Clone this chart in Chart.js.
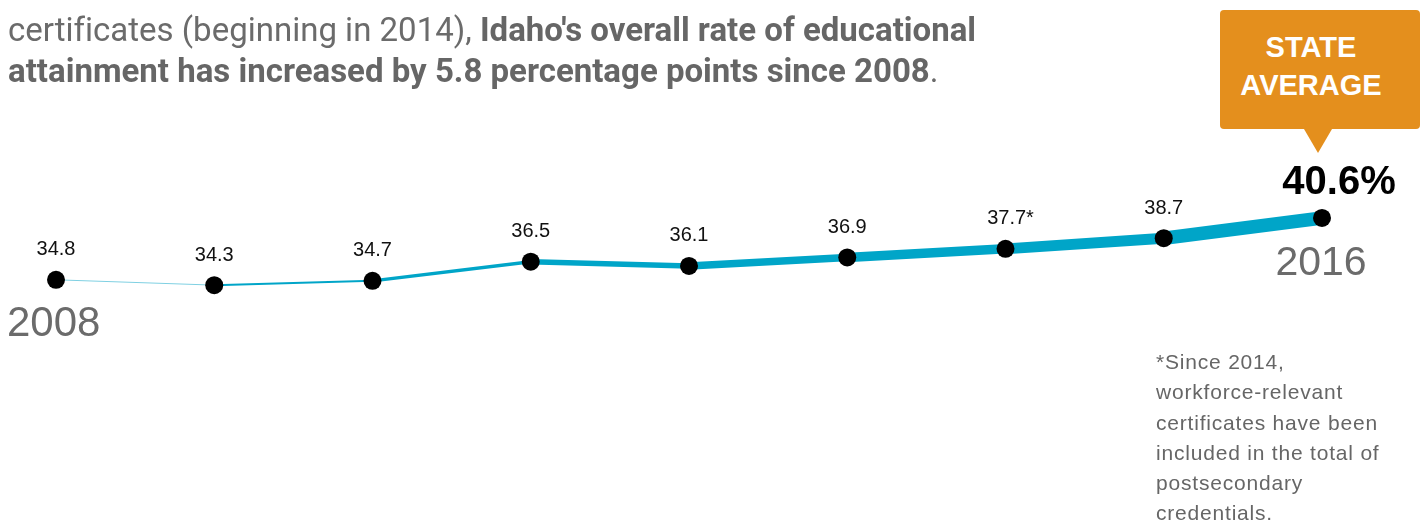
<!DOCTYPE html>
<html>
<head>
    <title>Idaho educational attainment</title>
    <script src="https://cdn.jsdelivr.net/npm/chart.js"></script>
    <style>
        body {
            margin: 0;
            width: 1426px;
            height: 521px;
            overflow: hidden;
            position: relative;
            font-family: "Liberation Sans", Arial, sans-serif;
            background: #fff;
        }

        #chart {
            position: absolute;
            left: 0;
            top: 0;
        }

        .intro {
            position: absolute;
            left: 8px;
            top: 9px;
            width: 1150px;
            font-family: Roboto, "Liberation Sans", sans-serif;
            font-size: 33px;
            line-height: 41px;
            color: #6b6b6b;
            font-variant-ligatures: none;
        }

        .intro b {
            color: #666;
        }

        .badge {
            position: absolute;
            left: 1220px;
            top: 10px;
            width: 200px;
            height: 119px;
            background: #e48f1d;
            border-radius: 4px;
            color: #fff;
            font-weight: bold;
            font-size: 29px;
            line-height: 38px;
            text-align: center;
            padding-top: 18px;
            padding-right: 18px;
            box-sizing: border-box;
        }

        .badge:after {
            content: "";
            position: absolute;
            left: 84px;
            top: 119px;
            border-left: 14px solid transparent;
            border-right: 14px solid transparent;
            border-top: 24px solid #e48f1d;
        }

        .note {
            position: absolute;
            left: 1156px;
            top: 347px;
            width: 270px;
            font-size: 21px;
            letter-spacing: 0.8px;
            line-height: 30.3px;
            color: #666;
        }
    </style>
</head>
<body>
    <canvas id="chart" width="1426" height="521"></canvas>

    <div class="intro">
        certificates (beginning in 2014), <b>Idaho's overall rate of educational<br>
        attainment has increased by 5.8 percentage points since 2008</b>.
    </div>

    <div class="badge">STATE<br>AVERAGE</div>

    <div class="note">
        *Since 2014,<br>workforce-relevant<br>certificates have been<br>included in the total of<br>postsecondary<br>credentials.
    </div>

    <script>
        // data
        var years = ['2008', '2009', '2010', '2011', '2012', '2013', '2014', '2015', '2016'];
        var rates = [34.8, 34.3, 34.7, 36.5, 36.1, 36.9, 37.7, 38.7, 40.6];
        var pointLabels = ['34.8', '34.3', '34.7', '36.5', '36.1', '36.9', '37.7*', '38.7', '40.6%'];

        var lineBlue = '#00a5c8';

        // labels above each point, plus the big first / last year
        var labelPlugin = {
            id: 'pointText',
            afterDatasetsDraw: function(chart) {
                var ctx = chart.ctx;
                var pts = chart.getDatasetMeta(0).data;
                ctx.save();
                ctx.textAlign = 'center';
                ctx.textBaseline = 'middle';
                pts.forEach(function(p, i) {
                    if (i === pts.length - 1) {
                        ctx.font = 'bold 40px "Liberation Sans", Arial, sans-serif';
                        ctx.fillStyle = '#000';
                        ctx.fillText(pointLabels[i], p.x + 17, p.y - 35);
                    } else {
                        ctx.font = '20px "Liberation Sans", Arial, sans-serif';
                        ctx.fillStyle = '#111';
                        var dx = pointLabels[i].indexOf('*') >= 0 ? 5 : 0;
                        ctx.fillText(pointLabels[i], p.x + dx, p.y - 30);
                    }
                });
                var first = pts[0], last = pts[pts.length - 1];
                ctx.fillStyle = '#6b6b6b';
                ctx.font = '42px "Liberation Sans", Arial, sans-serif';
                ctx.textAlign = 'left';
                ctx.fillText(years[0], 7, first.y + 45);
                ctx.font = '41px "Liberation Sans", Arial, sans-serif';
                ctx.textAlign = 'center';
                ctx.fillText(years[years.length - 1], last.x - 1, last.y + 46);
                ctx.restore();
            }
        };

        var segWidths = [1, 2, 3.5, 5.5, 7.5, 9.5, 11, 13.5];

        new Chart(document.getElementById('chart'), {
            type: 'line',
            data: {
                labels: years,
                datasets: [{
                    data: rates,
                    borderColor: lineBlue,
                    borderWidth: 4,
                    pointRadius: 9,
                    pointBackgroundColor: '#000',
                    pointBorderWidth: 0,
                    tension: 0,
                    segment: {
                        borderWidth: function(c) { return segWidths[c.p0DataIndex]; },
                        borderColor: function(c) { return c.p0DataIndex === 0 ? '#7fd0e2' : lineBlue; }
                    }
                }]
            },
            options: {
                responsive: false,
                animation: false,
                layout: {
                    padding: { left: 56, right: 104, top: 171, bottom: 190 }
                },
                plugins: {
                    legend: { display: false },
                    tooltip: { enabled: false }
                },
                scales: {
                    x: { display: false, offset: false },
                    y: { display: false, min: 30, max: 45 }
                }
            },
            plugins: [labelPlugin]
        });
    </script>
</body>
</html>
